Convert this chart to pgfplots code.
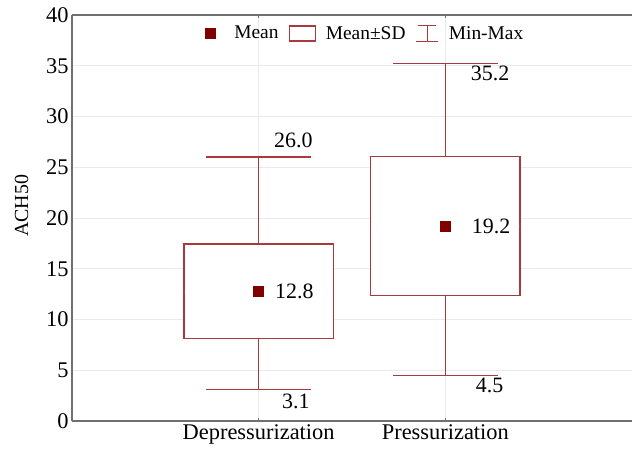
\documentclass[border=0pt]{standalone}
\usepackage{fontspec}
\setmainfont{Liberation Serif}
\usepackage{pgfplots}
\pgfplotsset{compat=1.18}
\usepgfplotslibrary{statistics}
\definecolor{boxred}{HTML}{A63A3C}
\definecolor{meanred}{HTML}{800000}
\definecolor{axgray}{HTML}{707070}
\definecolor{gridgray}{HTML}{EAEAEA}
\pgfplotsset{
  vlabel/.style 2 args={forget plot, draw=none, nodes near coords, point meta=explicit symbolic,
    nodes near coords style={font=\fontsize{22}{26}\selectfont, color=black, anchor=#1, #2}},
  sdbox/.style={forget plot, color=boxred, draw=boxred, line width=1.3bp, solid, fill=white,
    boxplot/box extend=0.8, boxplot/whisker extend=0.56,
    boxplot/every whisker/.style={draw=boxred, line width=1.3bp},
    boxplot/every box/.style={draw=boxred, fill=white, line width=1.3bp},
    boxplot/every median/.style={draw=none}},
}
\begin{document}
\begin{tikzpicture}
\begin{axis}[
  name=ax,
  scale only axis,
  width=560bp, height=406bp,
  xmin=0, xmax=3,
  ymin=0, ymax=40,
  xtick={1,2},
  xticklabels={Depressurization, Pressurization},
  ytick={0,5,...,40},
  axis x line*=box,
  axis y line*=left,
  axis line style={axgray, line width=1.4bp},
  grid=major,
  major grid style={gridgray, line width=0.8bp},
  xtick style={axgray, line width=0.8bp},
  major tick length=3bp,
  ytick style={draw=none},
  tick label style={font=\fontsize{22.5}{26}\selectfont},
  /pgf/number format/assume math mode=true,
  ylabel={ACH50},
  ylabel style={font=\fontsize{20}{23}\selectfont, yshift=11bp, xshift=12bp},
  boxplot/draw direction=y,
  legend style={at={(0.5236,1)}, anchor=north, yshift=-7bp, draw=none, fill=none,
    font=\fontsize{19.5}{22}\selectfont, legend columns=3,
    /tikz/every odd column/.append style={column sep=8bp},
    /tikz/every even column/.append style={column sep=8bp}},
  legend cell align=left,
  clip=false,
]
% mean
\addplot[only marks, mark=square*, mark size=5bp, color=meanred,
  legend image code/.code={\fill[meanred] (0bp,-5bp) rectangle (10bp,5bp); \path[draw=none] (10bp,0bp) -- (19bp,0bp);},
  nodes near coords, point meta=explicit symbolic,
  nodes near coords style={font=\fontsize{22}{26}\selectfont, color=black, anchor=west, xshift=13bp}]
  table[meta=lab] {
x y lab
1 12.8 12.8
};
\addlegendentry{Mean}
\addlegendimage{legend image code/.code={\draw[draw=boxred, line width=1.3bp] (0bp,-7.5bp) rectangle (26bp,7.5bp);}}
\addlegendentry{Mean±SD}
\addlegendimage{legend image code/.code={\draw[draw=boxred, line width=1.3bp] (2bp,8bp) -- (20bp,8bp) (11bp,8bp) -- (11bp,-8bp) (0bp,-8bp) -- (22bp,-8bp);}}
\addlegendentry{Min-Max}
% mean +- SD and min-max
\addplot[sdbox, boxplot prepared={draw position=1, lower whisker=3.1, lower quartile=8.15,
    median=12.8, upper quartile=17.45, upper whisker=26.0}]
  coordinates {};
\addplot[sdbox, boxplot prepared={draw position=2, lower whisker=4.5, lower quartile=12.35,
    median=19.2, upper quartile=26.05, upper whisker=35.2}]
  coordinates {};
% mean marks on top
\addplot[forget plot, only marks, mark=square*, mark size=5bp, color=meanred]
  coordinates {(1,12.8) (2,19.2)};
% labels
\addplot[vlabel={west}{xshift=23bp}] table[meta=lab] {
x y lab
2 19.2 19.2
};
\addplot[vlabel={south west}{xshift=12bp, yshift=6bp}] table[meta=lab] {
x y lab
1 26.0 26.0
};
\addplot[vlabel={north west}{xshift=20bp, yshift=-1bp}] table[meta=lab] {
x y lab
1 3.1 3.1
};
\addplot[vlabel={north west}{xshift=22bp, yshift=1bp}] table[meta=lab] {
x y lab
2 35.2 35.2
};
\addplot[vlabel={north west}{xshift=27bp, yshift=1bp}] table[meta=lab] {
x y lab
2 4.5 4.5
};
\end{axis}
\pgfresetboundingbox
\path ([xshift=-72bp,yshift=-30bp]ax.south west) rectangle ([yshift=15bp]ax.north east);
\end{tikzpicture}
\end{document}
